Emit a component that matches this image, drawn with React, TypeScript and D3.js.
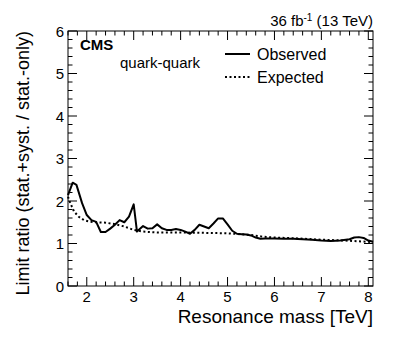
import { useEffect, useRef } from 'react'
import * as d3 from 'd3'

// observed limit ratio
const obsMass = [1.6, 1.7, 1.78, 1.9, 2.0, 2.1, 2.2, 2.3, 2.4, 2.5, 2.6, 2.7, 2.8, 2.9, 3.0, 3.07, 3.2, 3.3, 3.4, 3.5, 3.6, 3.7, 3.8, 3.9, 4.0, 4.1, 4.2, 4.3, 4.4, 4.5, 4.6, 4.7, 4.8, 4.9, 5.0, 5.1, 5.2, 5.3, 5.4, 5.5, 5.6, 5.7, 5.8, 6.0, 6.2, 6.4, 6.6, 6.8, 7.0, 7.2, 7.4, 7.6, 7.7, 7.8, 7.9, 8.0, 8.1]
const obsRatio = [2.14, 2.43, 2.38, 1.95, 1.67, 1.55, 1.51, 1.27, 1.27, 1.35, 1.44, 1.55, 1.5, 1.63, 1.92, 1.28, 1.41, 1.35, 1.36, 1.45, 1.36, 1.32, 1.32, 1.34, 1.32, 1.28, 1.23, 1.32, 1.44, 1.4, 1.36, 1.47, 1.59, 1.59, 1.45, 1.3, 1.23, 1.22, 1.21, 1.19, 1.14, 1.11, 1.12, 1.12, 1.11, 1.11, 1.1, 1.09, 1.07, 1.06, 1.07, 1.1, 1.14, 1.15, 1.13, 1.07, 1.04]

// expected limit ratio
const expMass = [1.6, 1.65, 1.73, 1.83, 1.94, 2.08, 2.2, 2.4, 2.58, 2.8, 3.0, 3.2, 3.5, 4.0, 4.5, 5.0, 5.5, 5.75, 6.0, 6.5, 7.0, 7.5, 8.0, 8.1]
const expRatio = [2.1, 1.95, 1.75, 1.63, 1.55, 1.51, 1.5, 1.49, 1.46, 1.4, 1.32, 1.28, 1.26, 1.26, 1.25, 1.24, 1.2, 1.16, 1.14, 1.12, 1.09, 1.07, 1.04, 1.03]

const xTicks = [2, 3, 4, 5, 6, 7, 8]
const yTicks = [0, 1, 2, 3, 4, 5, 6]

const W = 399, H = 337
const margin = { top: 31, right: 26, bottom: 51, left: 68 }
const FONT = '"Liberation Sans", Arial, Helvetica, sans-serif'

export default function App() {
  const svgRef = useRef<SVGSVGElement>(null)

  useEffect(() => {
    const svg = d3.select(svgRef.current)
    svg.selectAll('*').remove()

    const iw = W - margin.left - margin.right
    const ih = H - margin.top - margin.bottom
    const x = d3.scaleLinear().domain([1.6, 8.1]).range([0, iw])
    const y = d3.scaleLinear().domain([0, 6]).range([ih, 0])

    const g = svg.append('g').attr('transform', `translate(${margin.left},${margin.top})`)

    // minor + major ticks on all four sides
    const xMinor = d3.range(1.6, 8.1001, 0.2).map(v => +v.toFixed(1))
    const yMinor = d3.range(0, 6.0001, 0.2).map(v => +v.toFixed(1))
    const isMajor = (v: number) => Math.abs(v - Math.round(v)) < 1e-6
    xMinor.forEach(v => {
      const len = isMajor(v) ? 9 : 4.5
      g.append('line').attr('x1', x(v)).attr('x2', x(v)).attr('y1', ih).attr('y2', ih - len).attr('stroke', '#000')
      g.append('line').attr('x1', x(v)).attr('x2', x(v)).attr('y1', 0).attr('y2', len).attr('stroke', '#000')
    })
    yMinor.forEach(v => {
      const len = isMajor(v) ? 9 : 4.5
      g.append('line').attr('x1', 0).attr('x2', len).attr('y1', y(v)).attr('y2', y(v)).attr('stroke', '#000')
      g.append('line').attr('x1', iw).attr('x2', iw - len).attr('y1', y(v)).attr('y2', y(v)).attr('stroke', '#000')
    })

    g.append('rect').attr('width', iw).attr('height', ih)
      .attr('fill', 'none').attr('stroke', '#000').attr('stroke-width', 1)

    // tick labels
    g.selectAll('.xl').data(xTicks).join('text')
      .attr('x', d => x(d)).attr('y', ih + 16).attr('text-anchor', 'middle')
      .attr('font-size', 15).attr('font-family', FONT).text(d => d)
    g.selectAll('.yl').data(yTicks).join('text')
      .attr('x', -4).attr('y', d => y(d) + 5.5).attr('text-anchor', 'end')
      .attr('font-size', 15).attr('font-family', FONT).text(d => d)

    // axis titles
    g.append('text').attr('x', iw).attr('y', ih + 37).attr('text-anchor', 'end')
      .attr('font-size', 19).attr('font-family', FONT).text('Resonance mass [TeV]')
    g.append('text').attr('transform', `translate(${-39},0) rotate(-90)`)
      .attr('text-anchor', 'end').attr('font-size', 18).attr('font-family', FONT)
      .text('Limit ratio (stat.+syst. / stat.-only)')

    // curves
    const line = d3.line<[number, number]>().x(d => x(d[0])).y(d => y(d[1]))
    g.append('path').datum(expMass.map((m, i) => [m, expRatio[i]] as [number, number]))
      .attr('d', line).attr('fill', 'none').attr('stroke', '#000').attr('stroke-width', 2)
      .attr('stroke-dasharray', '2,2.5')
    g.append('path').datum(obsMass.map((m, i) => [m, obsRatio[i]] as [number, number]))
      .attr('d', line).attr('fill', 'none').attr('stroke', '#000').attr('stroke-width', 2)
      .attr('stroke-linejoin', 'round')

    // labels
    g.append('text').attr('x', 12).attr('y', 19).attr('font-size', 15).attr('font-weight', 'bold')
      .attr('font-family', FONT).text('CMS')
    g.append('text').attr('x', 52).attr('y', 37).attr('font-size', 15)
      .attr('font-family', FONT).text('quark-quark')

    const lum = g.append('text').attr('x', iw).attr('y', -5).attr('text-anchor', 'end')
      .attr('font-size', 15).attr('font-family', FONT)
    lum.append('tspan').text('36 fb')
    lum.append('tspan').attr('dy', -5).attr('font-size', 10).text('-1')
    lum.append('tspan').attr('dy', 5).text(' (13 TeV)')

    // legend
    const legend = [
      { label: 'Observed', dash: null as string | null, yy: 23 },
      { label: 'Expected', dash: '2,2.5', yy: 46 },
    ]
    legend.forEach(l => {
      const ln = g.append('line').attr('x1', 157).attr('x2', 182).attr('y1', l.yy).attr('y2', l.yy)
        .attr('stroke', '#000').attr('stroke-width', 2)
      if (l.dash) ln.attr('stroke-dasharray', l.dash)
      g.append('text').attr('x', 189).attr('y', l.yy + 5.5).attr('font-size', 16)
        .attr('font-family', FONT).text(l.label)
    })
  }, [])

  return (
    <svg ref={svgRef} width={W} height={H}
      style={{ position: 'fixed', left: 0, top: 0, background: '#fff', display: 'block' }} />
  )
}
